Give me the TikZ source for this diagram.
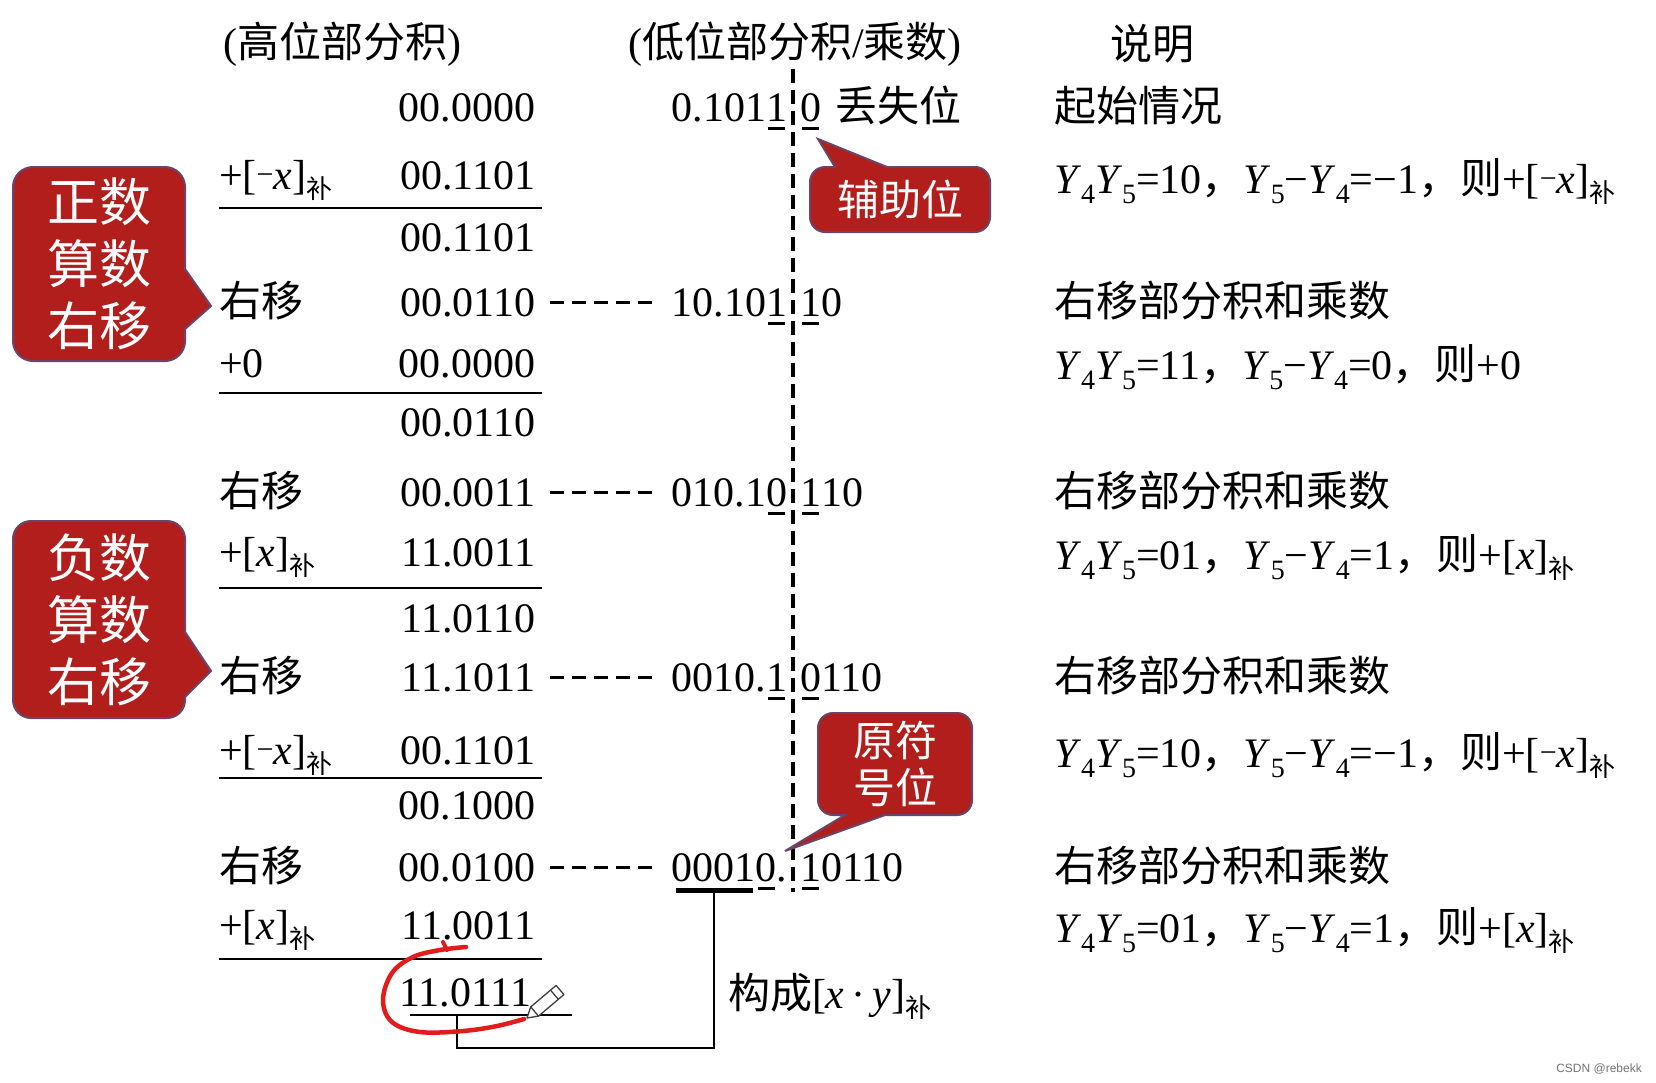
\documentclass[tikz,border=0pt]{standalone}
\usepackage{fontspec}
\usetikzlibrary{calc}
\setmainfont{Liberation Serif}
\newfontfamily\cjk{Noto Sans CJK SC}
\newfontfamily\wmfont{Liberation Sans}
\definecolor{boxred}{RGB}{178,30,28}
\definecolor{boxedge}{RGB}{105,70,105}
\definecolor{penred}{RGB}{226,28,28}
\newsavebox\ulbox
\newcommand{\uln}[1]{\sbox\ulbox{#1}\rlap{\hspace{2pt}\rule[-8.5pt]{\dimexpr\wd\ulbox-4pt\relax}{3pt}}\usebox\ulbox}
\newcommand{\sbu}{\raisebox{-0.22em}{\cjk\fontsize{26}{26}\selectfont 补}}
\newcommand{\sub}[1]{\raisebox{-0.26em}{\fontsize{28}{28}\selectfont #1}}
\newcommand{\vY}{\textit{Y}}
\newcommand{\smin}{\raisebox{0.1em}{\fontsize{30}{30}\selectfont −}}
\newcommand{\cm}{{\cjk ，}}
\newcommand{\descA}{\vY\sub{4}\vY\sub{5}=10\cm\vY\sub{5}−\vY\sub{4}=−1\cm{\cjk 则}+[\smin\textit{x}]\sbu}
\newcommand{\descB}{\vY\sub{4}\vY\sub{5}=11\cm\vY\sub{5}−\vY\sub{4}=0\cm{\cjk 则}+0}
\newcommand{\descC}{\vY\sub{4}\vY\sub{5}=01\cm\vY\sub{5}−\vY\sub{4}=1\cm{\cjk 则}+[\textit{x}]\sbu}
\begin{document}
\begin{tikzpicture}[x=1pt,y=-1pt,
  txt/.style={inner sep=0pt, outer sep=0pt, font=\fontsize{42}{50}\selectfont},
  hdr/.style={txt, anchor=center},
  lab/.style={txt, anchor=base west},
  hi/.style={txt, anchor=base east},
  loL/.style={txt, anchor=base east},
  loR/.style={txt, anchor=base west},
  desc/.style={txt, anchor=base west},
  sumline/.style={line width=2.5pt},
  dashlink/.style={line width=3pt, dash pattern=on 14pt off 8pt},
  vdash/.style={line width=3.2pt, dash pattern=on 14pt off 7pt},
  callout/.style={fill=boxred, draw=boxedge, line width=2pt},
  calltext/.style={text=white, inner sep=0pt, align=center},
  bigcall/.style={calltext, font=\cjk\fontsize{52}{62}\selectfont},
  smallcall/.style={calltext, font=\cjk\fontsize{42}{47}\selectfont}
]
\fill[white] (0,0) rectangle (1656,1082);
\useasboundingbox (0,0) rectangle (1656,1082);

% headers
\node[hdr] (hA) at (342,44) {({\cjk 高位部分积})};
\node[hdr] (hB) at (795,44) {({\cjk 低位部分积}/{\cjk 乘数})};
\node[hdr] (hC) at (1152,44) {\cjk 说明};

% high part column
\node[hi] (hi1)  at (535,121)  {00.0000};
\node[lab] (l2)  at (219,189)  {+[\smin\textit{x}]\sbu};
\node[hi] (hi2)  at (535,189)  {00.1101};
\node[hi] (hi3)  at (535,251)  {00.1101};
\node[lab] (l4)  at (219,316)  {\cjk 右移};
\node[hi] (hi4)  at (535,316)  {00.0110};
\node[lab] (l5)  at (219,377)  {+0};
\node[hi] (hi5)  at (535,377)  {00.0000};
\node[hi] (hi6)  at (535,436)  {00.0110};
\node[lab] (l7)  at (219,506)  {\cjk 右移};
\node[hi] (hi7)  at (535,506)  {00.0011};
\node[lab] (l8)  at (219,566)  {+[\textit{x}]\sbu};
\node[hi] (hi8)  at (535,566)  {11.0011};
\node[hi] (hi9)  at (535,632)  {11.0110};
\node[lab] (l10) at (219,691)  {\cjk 右移};
\node[hi] (hi10) at (535,691)  {11.1011};
\node[lab] (l11) at (219,764)  {+[\smin\textit{x}]\sbu};
\node[hi] (hi11) at (535,764)  {00.1101};
\node[hi] (hi12) at (535,819)  {00.1000};
\node[lab] (l13) at (219,881)  {\cjk 右移};
\node[hi] (hi13) at (535,881)  {00.0100};
\node[lab] (l14) at (219,939)  {+[\textit{x}]\sbu};
\node[hi] (hi14) at (535,939)  {11.0011};
\node[hi] (hi15) at (531,1006) {11.0111};

% sum lines
\draw[sumline] (219,208) -- (542,208);
\draw[sumline] (219,393) -- (542,393);
\draw[sumline] (219,588) -- (542,588);
\draw[sumline] (219,778) -- (542,778);
\draw[sumline] (219,959) -- (542,959);

% low part column
\node[loL] (lo1L)  at (787,121) {0.101\uln{1}};
\node[loR] (lo1R)  at (800,121) {\uln{0}\hspace{14pt}{\cjk 丢失位}};
\node[loL] (lo4)   at (787,316) {10.10\uln{1}};
\node[loR] (lo4R)  at (800,316) {\uln{1}0};
\node[loL] (lo7)   at (787,506) {010.1\uln{0}};
\node[loR] (lo7R)  at (800,506) {\uln{1}10};
\node[loL] (lo10)  at (787,691) {0010.\uln{1}};
\node[loR] (lo10R) at (800,691) {\uln{0}110};
\node[loL] (lo13)  at (787,881) {0001\uln{0}.};
\node[loR] (lo13R) at (800,881) {\uln{1}0110};

% dashed links
\foreach \r in {4,7,10,13}{
  \draw[dashlink] ([shift={(15,-14)}]hi\r.base east) -- ([shift={(-17,-14)}]lo\r.base west);
}

% vertical dashed separator
\coordinate (vtop) at (793,69);
\coordinate (vbot) at (793,892);
\draw[vdash] (vtop) -- (vbot);

% result bracket
\coordinate (pa) at ([shift={(4,9)}]lo13.base west);
\coordinate (pb) at ([shift={(81,9)}]lo13.base west);
\draw[line width=5pt] (pa) -- (pb);
\coordinate (pm) at ($(pa)!0.5!(pb)$);
\coordinate (qa) at ([shift={(-121,9)}]hi15.base east);
\coordinate (qb) at ([shift={(41,9)}]hi15.base east);
\draw[sumline] (qa) -- (qb);
\coordinate (qm) at ([shift={(-74,9)}]hi15.base east);
\coordinate (bot) at (0,1048);
\draw[sumline] (pm) -- (pm |- bot) -- (qm |- bot) -- (qm);
\node[desc] (res) at (728,1008) {{\cjk 构成}[\textit{x}\,·\,\textit{y}]\sbu};

% descriptions
\node[desc] (d1)  at (1054,121) {\cjk 起始情况};
\node[desc] (d2)  at (1054,193) {\descA};
\node[desc] (d4)  at (1054,316) {\cjk 右移部分积和乘数};
\node[desc] (d5)  at (1054,379) {\descB};
\node[desc] (d7)  at (1054,506) {\cjk 右移部分积和乘数};
\node[desc] (d8)  at (1054,569) {\descC};
\node[desc] (d10) at (1054,691) {\cjk 右移部分积和乘数};
\node[desc] (d11) at (1054,767) {\descA};
\node[desc] (d13) at (1054,881) {\cjk 右移部分积和乘数};
\node[desc] (d14) at (1054,942) {\descC};

% callouts
\path[callout] (100,167) [rounded corners=20pt] -- (185,167) [sharp corners] -- (185,269) -- (211,306) -- (185,329) [rounded corners=20pt] -- (185,361) -- (13,361) -- (13,167) -- cycle;
\node[bigcall] (c1) at (99,264) {正数\\算数\\右移};
\path[callout] (100,521) [rounded corners=18pt] -- (185,521) [sharp corners] -- (185,632) -- (211,671) -- (185,697) [rounded corners=18pt] -- (185,718) -- (13,718) -- (13,521) -- cycle;
\node[bigcall] (c2) at (99,620) {负数\\算数\\右移};
\path[callout] (900,232) [rounded corners=15pt] -- (810,232) -- (810,167) [sharp corners] -- (835,167) -- (818,139) -- (887,167) [rounded corners=15pt] -- (990,167) -- (990,232) -- cycle;
\node[smallcall] (c3) at (900,199) {辅助位};
\path[callout] (900,713) [rounded corners=15pt] -- (972,713) -- (972,815) [sharp corners] -- (885,815) -- (785,851) -- (845,815) [rounded corners=15pt] -- (818,815) -- (818,713) -- cycle;
\node[smallcall] (c4) at (895,764) {原符\\号位};

% red hand-drawn loop and pencil
\draw[penred, line width=4.5pt, line cap=round, line join=round]
  plot[smooth, tension=0.6] coordinates {(466,947) (440,950) (413,957) (392,973) (383,1000) (392,1022) (420,1032) (463,1031) (497,1026) (524,1019)};
\draw[penred, line width=4pt, line cap=round] (447,950) -- (443,942);
\filldraw[fill=white, draw=black!75, line width=1.3pt, line join=round]
  (527,1018) -- (538.5,1016.1) -- (563.9,994.6) -- (556.1,985.4) -- (530.7,1006.9) -- cycle;
\draw[black!75, line width=1.3pt] (538.5,1016.1) -- (530.7,1006.9);
\draw[black!75, line width=1.3pt] (558.3,999.3) -- (550.5,990.1);

% watermark
\node[anchor=east, inner sep=0pt, font=\wmfont\fontsize{12}{14}\selectfont, text=black!55] (wm) at (1642,1069) {CSDN @rebekk};
\end{tikzpicture}
\end{document}
